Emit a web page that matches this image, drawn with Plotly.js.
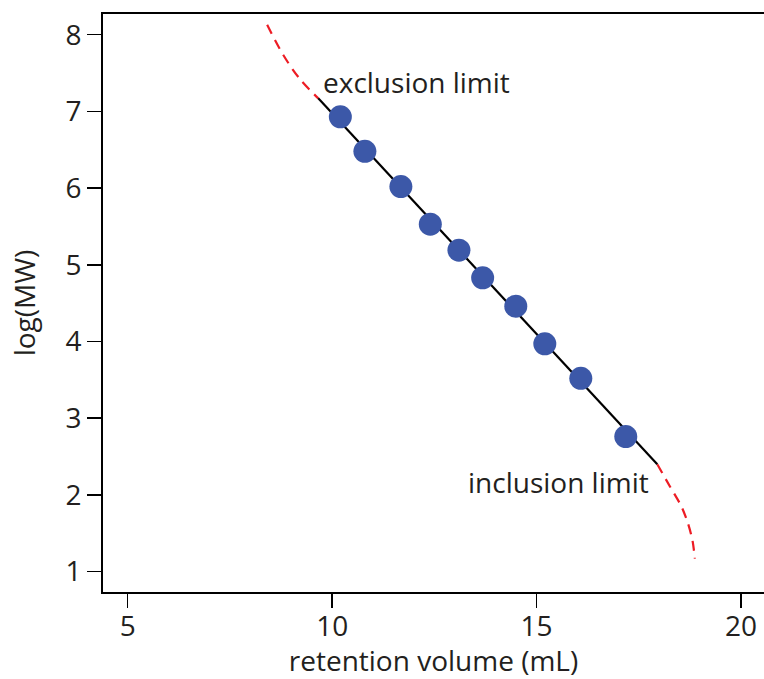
<!DOCTYPE html>
<html>
<head>
<meta charset="utf-8">
<script src="https://cdn.plot.ly/plotly-3.0.1.min.js"></script>
<style>html,body{margin:0;padding:0;background:#fff;}#chart{width:764px;height:679px;}</style>
</head>
<body>
<div id="chart"></div>
<script>
// Calibration standards: retention volume (mL) vs log(MW)
const standardVolume = [10.2, 10.8, 11.68, 12.4, 13.1, 13.68, 14.49, 15.2, 16.08, 17.18];
const standardLogMW  = [6.93, 6.48, 6.02, 5.53, 5.19, 4.83, 4.46, 3.97, 3.52, 2.76];

// Linear calibration region
const fitVolume = [9.66, 17.95];
const fitLogMW  = [7.17, 2.40];

// Curved regions beyond the limits (dashed)
const exclusionVolume = [8.41, 8.80, 9.20, 9.66];
const exclusionLogMW  = [8.13, 7.74, 7.43, 7.17];
const inclusionVolume = [17.95, 18.26, 18.54, 18.70, 18.81, 18.87];
const inclusionLogMW  = [2.40, 2.11, 1.85, 1.63, 1.41, 1.17];

const xTicks = [5, 10, 15, 20];
const yTicks = [1, 2, 3, 4, 5, 6, 7, 8];

const textColor = '#231f20';
const fontFamily = '"Open Sans", "Noto Sans", sans-serif';

const traces = [
  {x: exclusionVolume, y: exclusionLogMW, mode: 'lines', line: {color: '#ed1c24', width: 2.2, dash: '10px,7px', shape: 'spline', smoothing: 1}, hoverinfo: 'skip'},
  {x: inclusionVolume, y: inclusionLogMW, mode: 'lines', line: {color: '#ed1c24', width: 2.2, dash: '10px,7px', shape: 'spline', smoothing: 0.8}, hoverinfo: 'skip'},
  {x: fitVolume, y: fitLogMW, mode: 'lines', line: {color: '#000000', width: 2.2}},
  {x: standardVolume, y: standardLogMW, mode: 'markers', marker: {color: '#3c58a8', size: 23, line: {width: 0}}}
];

const layout = {
  width: 764, height: 679,
  margin: {l: 103, r: 0, t: 14, b: 87},
  showlegend: false,
  paper_bgcolor: '#ffffff', plot_bgcolor: '#ffffff',
  font: {family: fontFamily, color: textColor, size: 28},
  xaxis: {
    range: [4.396, 20.56], tickvals: xTicks, ticktext: xTicks.map(String),
    showgrid: false, zeroline: false, showline: true, linecolor: '#000', linewidth: 2,
    mirror: true, ticks: 'outside', ticklen: 14, tickwidth: 1.5, tickcolor: '#000',
    ticklabelstandoff: -6,
    tickfont: {size: 28, color: textColor},
    title: {text: 'retention volume (mL)', font: {size: 28, color: textColor}, standoff: 26},
    automargin: false
  },
  yaxis: {
    range: [0.734, 8.27], tickvals: yTicks, ticktext: yTicks.map(String),
    showgrid: false, zeroline: false, showline: true, linecolor: '#000', linewidth: 2,
    ticks: 'outside', ticklen: 14, tickwidth: 1.5, tickcolor: '#000',
    tickfont: {size: 28, color: textColor},
    title: {text: 'log(MW)', font: {size: 28, color: textColor}, standoff: 22},
    automargin: false
  },
  annotations: [
    {x: 9.72, y: 7.38, xref: 'x', yref: 'y', text: 'exclusion limit', showarrow: false, xanchor: 'left', yanchor: 'middle', font: {size: 28, color: textColor}},
    {x: 13.28, y: 2.17, xref: 'x', yref: 'y', text: 'inclusion limit', showarrow: false, xanchor: 'left', yanchor: 'middle', font: {size: 28, color: textColor}}
  ]
};

Plotly.newPlot('chart', traces, layout, {displayModeBar: false, staticPlot: true});
</script>
</body>
</html>
